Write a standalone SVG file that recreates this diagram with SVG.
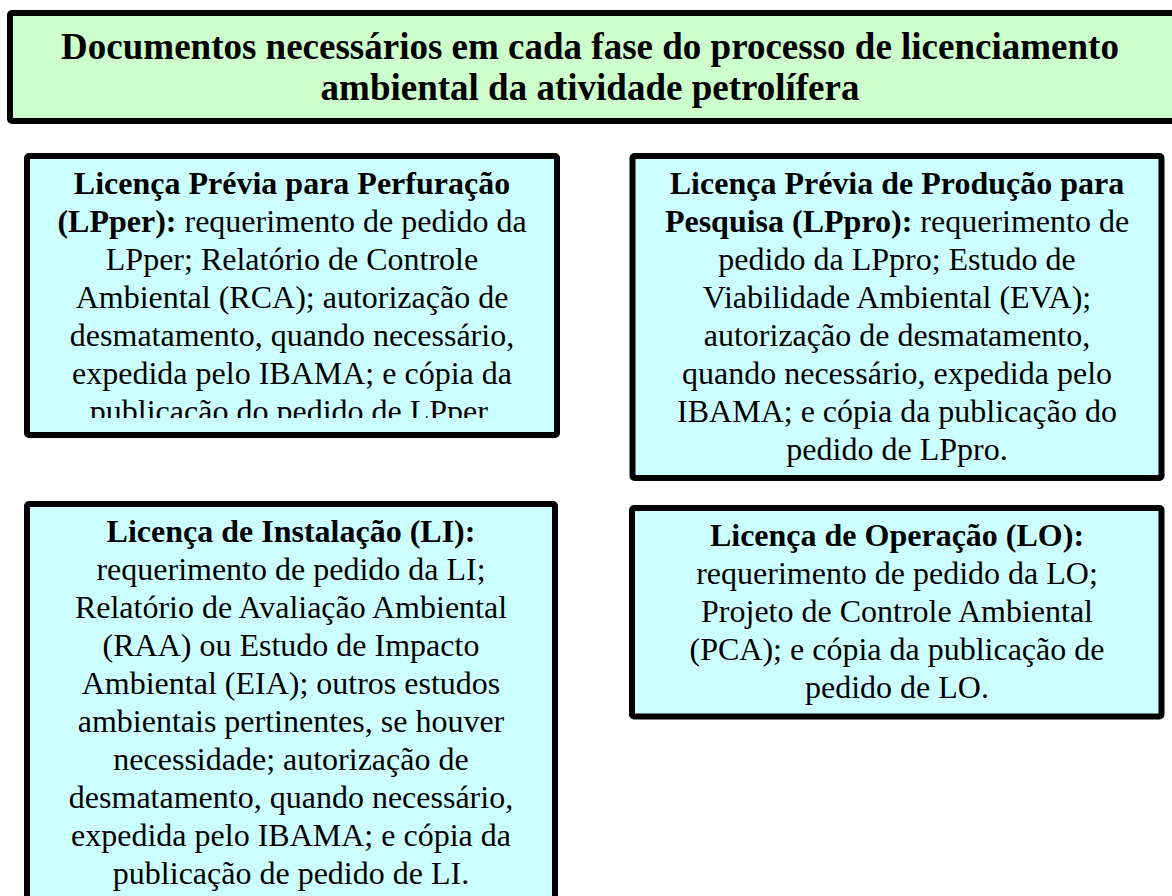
<svg xmlns="http://www.w3.org/2000/svg" width="1172" height="896" viewBox="0 0 1172 896">
  <style>
    .title-box { fill: #CCFFCC; stroke: #000; stroke-width: 6; }
    .box { fill: #CCFFFF; stroke: #000; stroke-width: 6; }
    .t { font-family: "Liberation Serif", "Times New Roman", serif; font-size: 32px; fill: #000; text-anchor: middle; }
    .title { font-family: "Liberation Serif", "Times New Roman", serif; font-size: 37px; font-weight: bold; fill: #000; text-anchor: middle; }
    .b { font-weight: bold; }
  </style>
  <defs>
    <clipPath id="clip1">
      <rect x="30" y="159" width="524" height="259"/>
    </clipPath>
  </defs>

  <g id="title">
    <rect class="title-box" x="10" y="13" width="1190" height="108" rx="2"/>
    <text class="title" x="590" y="59">Documentos necessários em cada fase do processo de licenciamento</text>
    <text class="title" x="590" y="100">ambiental da atividade petrolífera</text>
  </g>

  <g id="lpper">
    <rect class="box" x="27" y="156" width="530" height="279" rx="2"/>
    <g clip-path="url(#clip1)">
      <text class="t" x="292" y="193.5"><tspan class="b">Licença Prévia para Perfuração</tspan></text>
      <text class="t" x="292" y="231.6"><tspan class="b">(LPper):</tspan> requerimento de pedido da</text>
      <text class="t" x="292" y="269.7">LPper; Relatório de Controle</text>
      <text class="t" x="292" y="307.8">Ambiental (RCA); autorização de</text>
      <text class="t" x="292" y="345.9">desmatamento, quando necessário,</text>
      <text class="t" x="292" y="384">expedida pelo IBAMA; e cópia da</text>
      <text class="t" x="292" y="422.1">publicação do pedido de LPper.</text>
    </g>
  </g>

  <g id="lppro">
    <rect class="box" x="632.5" y="156" width="529" height="322" rx="2"/>
    <text class="t" x="897" y="193.5"><tspan class="b">Licença Prévia de Produção para</tspan></text>
    <text class="t" x="897" y="231.6"><tspan class="b">Pesquisa (LPpro):</tspan> requerimento de</text>
    <text class="t" x="897" y="269.7">pedido da LPpro; Estudo de</text>
    <text class="t" x="897" y="307.8">Viabilidade Ambiental (EVA);</text>
    <text class="t" x="897" y="345.9">autorização de desmatamento,</text>
    <text class="t" x="897" y="384">quando necessário, expedida pelo</text>
    <text class="t" x="897" y="422.1">IBAMA; e cópia da publicação do</text>
    <text class="t" x="897" y="460.2">pedido de LPpro.</text>
  </g>

  <g id="li">
    <rect class="box" x="27" y="504" width="528" height="420" rx="2"/>
    <text class="t" x="291" y="541.5"><tspan class="b">Licença de Instalação (LI):</tspan></text>
    <text class="t" x="291" y="579.6">requerimento de pedido da LI;</text>
    <text class="t" x="291" y="617.7">Relatório de Avaliação Ambiental</text>
    <text class="t" x="291" y="655.8">(RAA) ou Estudo de Impacto</text>
    <text class="t" x="291" y="693.9">Ambiental (EIA); outros estudos</text>
    <text class="t" x="291" y="732">ambientais pertinentes, se houver</text>
    <text class="t" x="291" y="770.1">necessidade; autorização de</text>
    <text class="t" x="291" y="808.2">desmatamento, quando necessário,</text>
    <text class="t" x="291" y="846.3">expedida pelo IBAMA; e cópia da</text>
    <text class="t" x="291" y="884.4">publicação de pedido de LI.</text>
  </g>

  <g id="lo">
    <rect class="box" x="632" y="508" width="529.5" height="208.5" rx="2"/>
    <text class="t" x="897" y="545.5"><tspan class="b">Licença de Operação (LO):</tspan></text>
    <text class="t" x="897" y="583.6">requerimento de pedido da LO;</text>
    <text class="t" x="897" y="621.7">Projeto de Controle Ambiental</text>
    <text class="t" x="897" y="659.8">(PCA); e cópia da publicação de</text>
    <text class="t" x="897" y="697.9">pedido de LO.</text>
  </g>

  <g id="connectors"></g>
</svg>
